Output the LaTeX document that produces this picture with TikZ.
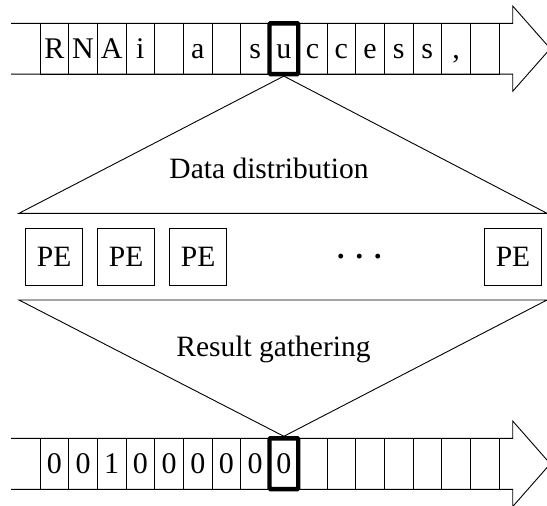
\documentclass[tikz,border=0pt]{standalone}
\usepackage{fontspec}
\setmainfont{Liberation Serif}
\begin{document}
\begin{tikzpicture}[x=1pt,y=-1pt,line width=0.9pt,
  cellfont/.style={font=\fontsize{30}{36}\selectfont},
  labelfont/.style={font=\fontsize{29.5}{35}\selectfont},
  cell/.style={draw,line width=0.8pt,minimum width=28.69pt,minimum height=50.8pt,
    inner sep=0pt,outer sep=0pt,anchor=north west,text height=20pt,text depth=0pt,cellfont},
  hot/.style={draw,line width=4.4pt,rounded corners=1pt},
  pe/.style={draw,line width=0.8pt,minimum size=57pt,inner sep=0pt,font=\fontsize{29.5}{35}\selectfont},
  label/.style={labelfont,anchor=base}]
\useasboundingbox (0,0) rectangle (547,506);

% input stream: shaft with arrow head
\draw (11,23.3) -- (512.7,23.3) -- (512.7,6) -- (550.3,48.65)
      -- (512.7,91.3) -- (512.7,74.1) -- (11,74.1);
\foreach \c [count=\i from 0] in {R,N,A,i,{},a,{},s,u,c,c,e,s,s,{,},{}}
  \node[cell] (t\i) at (40+\i*28.69,23.3) {\c};
\draw[hot] (t8.north west) rectangle (t8.south east);

% distribution fan
\coordinate (apexT) at ([yshift=-2pt]t8.south);
\coordinate (dl) at (19,213.3);
\coordinate (dr) at (547,213.3);
\draw (apexT) -- (dl) -- (dr) -- cycle;
\node[label] (dist) at (269,178.3) {Data distribution};

% processing elements
\node[pe] (pe1) at (54.2,256.4) {PE};
\node[pe] (pe2) at (126.2,256.4) {PE};
\node[pe] (pe3) at (198.2,256.4) {PE};
\node[font=\bfseries\fontsize{30}{36}\selectfont,anchor=base] (dots) at (359.5,266.5)
  {·\hspace{8.5pt}·\hspace{8.5pt}·};
\node[pe] (pe4) at (513,256.4) {PE};

% output stream: shaft with arrow head
\draw (11,438.3) -- (512.7,438.3) -- (512.7,421) -- (550.3,463.8)
      -- (512.7,506.6) -- (512.7,489.3) -- (11,489.3);
\foreach \c [count=\i from 0] in {0,0,1,0,0,0,0,0,0,{},{},{},{},{},{},{}}
  \node[cell] (b\i) at (40+\i*28.69,438.3) {\c};
\draw[hot] (b8.north west) rectangle (b8.south east);

% gathering fan
\coordinate (apexB) at ([yshift=2pt]b8.north);
\coordinate (gl) at (19,300);
\coordinate (gr) at (547,300);
\draw (gl) -- (gr) -- (apexB) -- cycle;
\node[label] (gath) at (273.5,356) {Result gathering};
\end{tikzpicture}
\end{document}
